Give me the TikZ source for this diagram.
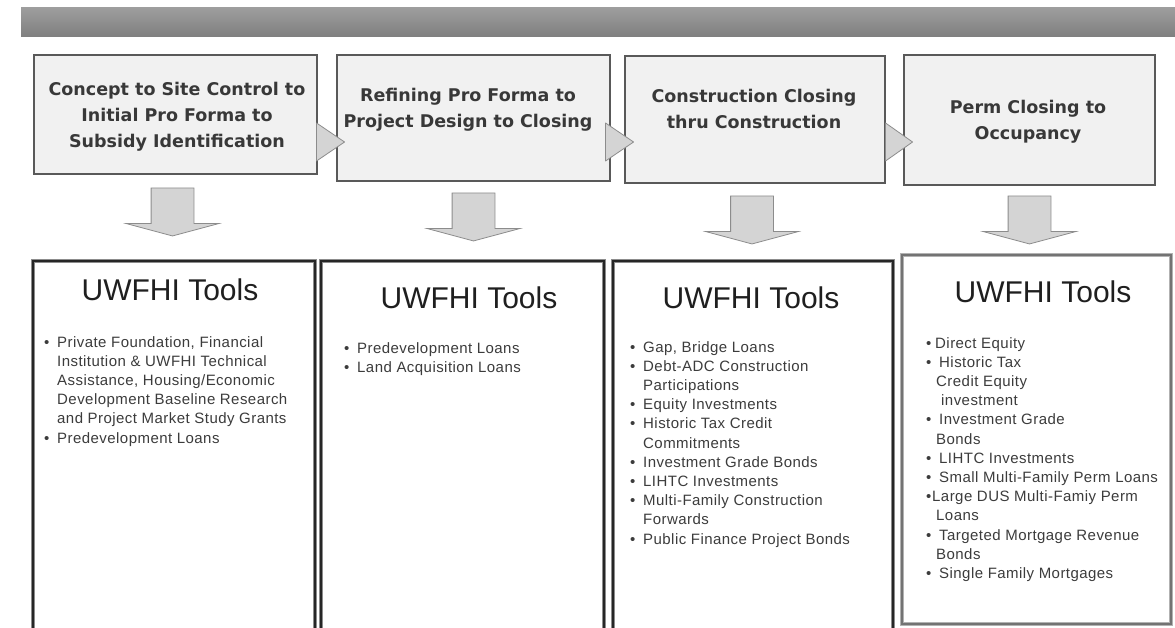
\documentclass[tikz,border=0pt]{standalone}
\usepackage{fontspec}
\setmainfont{Liberation Sans}
\newfontfamily\stepfont{DejaVu Sans}
\newfontfamily\listfont[LetterSpace=3]{Liberation Sans}
\usetikzlibrary{shapes.arrows, calc}
\definecolor{stepfill}{HTML}{F1F1F1}
\definecolor{arrowfill}{HTML}{D4D4D4}
\definecolor{textgray}{HTML}{3C3C3C}
\newcommand{\itm}[1][13pt]{\makebox[#1][l]{\textbullet}}
\newcommand{\ind}[1][13pt]{\hspace*{#1}}

\begin{document}
\begin{tikzpicture}[x=1pt, y=-1pt,
  banner/.style={top color=black!38, middle color=black!48, bottom color=black!50, draw=none,
    minimum width=1154pt, minimum height=29pt, inner sep=0pt, anchor=north west},
  stepbox/.style={draw=black!65, line width=1.1pt, fill=stepfill, inner sep=0pt},
  steptext/.style={font=\stepfont\bfseries\fontsize{17.5}{26}\selectfont, text=black!78, align=center, inner sep=0pt},
  tri/.style={draw=black!45, fill=arrowfill, line width=0.8pt, line join=round},
  downarrow/.style={single arrow, draw=black!45, fill=arrowfill, line width=0.8pt, rotate=-90,
    inner xsep=0pt, inner ysep=21pt, minimum height=48pt, single arrow head extend=25pt,
    single arrow tip angle=150, anchor=tail},
  toolbox/.style={draw=black!45, double=black!85, double distance=1.4pt, line width=0.9pt, fill=white, inner sep=0pt},
  tooltitle/.style={font=\fontsize{30}{36}\selectfont, text=black!88, inner sep=0pt},
  toollist/.style={font=\listfont\fontsize{15}{19.2}\selectfont, text=textgray, align=left, inner sep=0pt, anchor=north west}]
\useasboundingbox (0,0) rectangle (1175,628);

\node[banner] (banner) at (21,7) {};

% process steps
\node[stepbox, minimum width=283pt, minimum height=119pt] (s1) at (175.5,114.5) {};
\node[stepbox, minimum width=273pt, minimum height=126pt] (s2) at (473.5,118) {};
\node[stepbox, minimum width=260pt, minimum height=127pt] (s3) at (755,119.5) {};
\node[stepbox, minimum width=251pt, minimum height=130pt] (s4) at (1029.5,120) {};

\node[steptext] (s1t) at (177,116.5) {Concept to Site Control to\\Initial Pro Forma to\\Subsidy Identification};
\node[steptext] (s2t) at (468,109.5) {Refining Pro Forma to\\Project Design to Closing};
\node[steptext] (s3t) at (754,109) {Construction Closing\\thru Construction};
\node[steptext] (s4t) at (1028,121.5) {Perm Closing to\\Occupancy};

\filldraw[tri] ($(s1.east |- 0,142)+(-1,-19)$) -- ++(28,19) -- ++(-28,19) -- cycle;
\filldraw[tri] ($(s2.east |- 0,142)+(-5,-19)$) -- ++(28,19) -- ++(-28,19) -- cycle;
\filldraw[tri] ($(s3.east |- 0,142)+(0,-19)$) -- ++(27,19) -- ++(-27,19) -- cycle;

% tools
\node[downarrow] (a1) at ($(s1.south)+(-3,13)$) {};
\node[downarrow] (a2) at ($(s2.south)+(0,11)$) {};
\node[downarrow] (a3) at ($(s3.south)+(-3,12)$) {};
\node[downarrow] (a4) at ($(s4.south)+(0,10)$) {};

\node[toolbox, minimum width=282pt, minimum height=379pt] (tA) at (174,450.5) {};
\node[toolbox, minimum width=283pt, minimum height=379pt] (tB) at (462.5,450.5) {};
\node[toolbox, minimum width=280pt, minimum height=379pt] (tC) at (753,450.5) {};
\node[toolbox, draw=black!30, double=black!55, minimum width=269pt, minimum height=369pt] (tD) at (1036.5,439.5) {};

\node[tooltitle] (tAt) at (170,290) {UWFHI Tools};
\node[tooltitle] (tBt) at (469,298) {UWFHI Tools};
\node[tooltitle] (tCt) at (751,298) {UWFHI Tools};
\node[tooltitle] (tDt) at (1043,292) {UWFHI Tools};

\node[toollist] (tAl) at (44,336) {\itm Private Foundation, Financial\\
  \ind Institution \& UWFHI Technical\\
  \ind Assistance, Housing/Economic\\
  \ind Development Baseline Research\\
  \ind and Project Market Study Grants\\
  \itm Predevelopment Loans};
\node[toollist] (tBl) at (344,342) {\itm Predevelopment Loans\\
  \itm Land Acquisition Loans};
\node[toollist] (tCl) at (630,341) {\itm Gap, Bridge Loans\\
  \itm Debt-ADC Construction\\
  \ind Participations\\
  \itm Equity Investments\\
  \itm Historic Tax Credit\\
  \ind Commitments\\
  \itm Investment Grade Bonds\\
  \itm LIHTC Investments\\
  \itm Multi-Family Construction\\
  \ind Forwards\\
  \itm Public Finance Project Bonds};
\node[toollist] (tDl) at (926,337) {\itm[9pt]Direct Equity\\
  \itm Historic Tax\\
  \ind[10pt]Credit Equity\\
  \ind[15pt]investment\\
  \itm Investment Grade\\
  \ind[10pt]Bonds\\
  \itm LIHTC Investments\\
  \itm Small Multi-Family Perm Loans\\
  \itm[6pt]Large DUS Multi-Famiy Perm\\
  \ind[10pt]Loans\\
  \itm Targeted Mortgage Revenue\\
  \ind[10pt]Bonds\\
  \itm Single Family Mortgages};
\end{tikzpicture}
\end{document}
